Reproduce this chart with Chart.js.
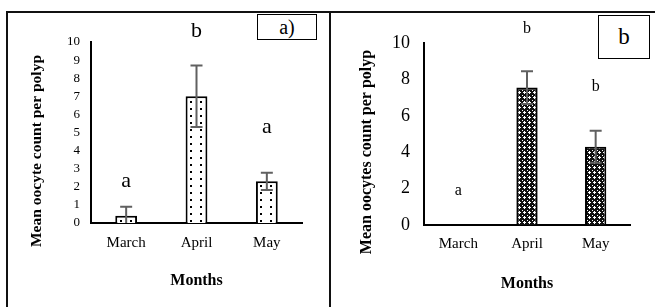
<!DOCTYPE html>
<html lang="en">
<head>
<meta charset="UTF-8">
<title>Mean oocyte count per polyp</title>
<script src="https://cdn.jsdelivr.net/npm/chart.js"></script>
<style>
  body { margin: 0; background: #fff; }
  #page { position: relative; width: 655px; height: 307px; overflow: hidden; background: #fff; }
  .panel { position: absolute; top: 0; }
  .line { position: absolute; background: #111; }
  .tag { position: absolute; box-sizing: border-box; border: 1px solid #000; background: #fff;
         font-family: "Liberation Serif", serif; text-align: center; color: #000; }
</style>
</head>
<body>
<div id="page">
  <canvas id="chartA" class="panel" style="left:0" width="330" height="307"></canvas>
  <canvas id="chartB" class="panel" style="left:332px" width="323" height="307"></canvas>

  <!-- outer frame -->
  <div class="line" style="left:6px;top:11px;width:649px;height:2px"></div>
  <div class="line" style="left:6px;top:11px;width:2px;height:296px"></div>
  <div class="line" style="left:329px;top:11px;width:2px;height:296px"></div>

  <div class="tag" style="left:257px;top:14px;width:60px;height:26px;font-size:20px;line-height:24px">a)</div>
  <div class="tag" style="left:598px;top:15px;width:52px;height:44px;font-size:23px;line-height:42px">b</div>
</div>

<script>
// data
const months = ['March', 'April', 'May'];

const meanA = [0.4, 7.0, 2.3];
const errA = [0.5, 1.7, 0.47];
const lettersA = ['a', 'b', 'a'];
const letterLevelA = [2.0, 10.3, 5.0];

const meanB = [0, 7.55, 4.3];
const errB = [0, 0.9, 0.88];
const lettersB = ['a', 'b', 'b'];
const letterLevelB = [1.65, 10.55, 7.35];

const serif = '"Liberation Serif", "Times New Roman", serif';

// fill patterns
function dotPattern() {
    const c = document.createElement('canvas');
    c.width = 10; c.height = 7;
    const g = c.getContext('2d');
    g.fillStyle = '#fff'; g.fillRect(0, 0, 10, 7);
    g.fillStyle = '#000'; g.fillRect(0, 3, 2, 2);
    return g.createPattern(c, 'repeat');
}
function checkPattern() {
    const c = document.createElement('canvas');
    c.width = 5; c.height = 5;
    const g = c.getContext('2d');
    g.fillStyle = '#111'; g.fillRect(0, 0, 5, 5);
    g.fillStyle = '#fff';
    [[2,1],[1,2],[2,2],[3,2],[2,3],[0,0]].forEach(p => g.fillRect(p[0], p[1], 1, 1));
    return g.createPattern(c, 'repeat');
}

// error bars, letters and y title
const extras = {
    id: 'extras',
    afterDatasetsDraw(chart, args, o) {
        const ctx = chart.ctx, y = chart.scales.y;
        const meta = chart.getDatasetMeta(0);
        const vals = chart.data.datasets[0].data;
        ctx.save();
        ctx.strokeStyle = '#606060';
        ctx.lineWidth = 2;
        meta.data.forEach((bar, i) => {
            const e = o.errors[i];
            if (!e) return;
            const top = y.getPixelForValue(vals[i] + e);
            const low = Math.max(0, vals[i] - e);
            const bot = y.getPixelForValue(low);
            ctx.beginPath();
            ctx.moveTo(bar.x, top); ctx.lineTo(bar.x, bot);
            ctx.moveTo(bar.x - o.cap, top); ctx.lineTo(bar.x + o.cap, top);
            if (low > 0) { ctx.moveTo(bar.x - o.cap, bot); ctx.lineTo(bar.x + o.cap, bot); }
            ctx.stroke();
        });
        ctx.fillStyle = '#000';
        ctx.font = o.letterFont;
        ctx.textAlign = 'center';
        ctx.textBaseline = 'alphabetic';
        o.letters.forEach((t, i) => ctx.fillText(t, meta.data[i].x, y.getPixelForValue(o.letterLevel[i])));

        ctx.translate(o.titleX, o.titleY);
        ctx.rotate(-Math.PI / 2);
        ctx.font = 'bold ' + o.titleSize + 'px ' + serif;
        ctx.textBaseline = 'middle';
        ctx.fillText(o.title, 0, 0);
        ctx.restore();
    }
};

function makeChart(id, vals, fill, opt) {
    return new Chart(document.getElementById(id), {
        type: 'bar',
        data: {
            labels: months,
            datasets: [{
                data: vals,
                backgroundColor: fill,
                borderColor: '#000',
                borderWidth: 2,
                categoryPercentage: 1,
                barPercentage: 0.31
            }]
        },
        options: {
            responsive: false,
            animation: false,
            events: [],
            layout: { padding: { top: opt.top, right: opt.right, left: 0, bottom: 0 } },
            plugins: {
                legend: { display: false },
                tooltip: { enabled: false },
                extras: opt.extras
            },
            scales: {
                x: {
                    grid: { display: false, drawTicks: false },
                    border: { display: true, color: '#000', width: 2 },
                    ticks: { color: '#000', padding: opt.xPad, font: { family: serif, size: 15 } },
                    title: {
                        display: true, text: 'Months', color: '#000',
                        font: { family: serif, size: 16, weight: 'bold' },
                        padding: { top: 0, bottom: opt.monthsPad }
                    },
                    afterFit: s => { s.height = opt.xHeight; }
                },
                y: {
                    min: 0, max: 10,
                    grid: { display: false, drawTicks: false },
                    border: { display: true, color: '#000', width: 2 },
                    ticks: { stepSize: opt.step, autoSkip: false, color: '#000', padding: opt.yPad, font: { family: serif, size: opt.yFont } },
                    afterFit: s => { s.width = opt.yWidth; }
                }
            }
        },
        plugins: [extras]
    });
}

makeChart('chartA', meanA, dotPattern(), {
    top: 42, right: 28, xHeight: 84, yWidth: 91, step: 1, yFont: 13, yPad: 11, xPad: 11, monthsPad: 17,
    extras: {
        errors: errA, cap: 6, letters: lettersA, letterLevel: letterLevelA,
        letterFont: '22px ' + serif,
        title: 'Mean oocyte count per polyp', titleSize: 15.5, titleX: 37, titleY: 151
    }
});

makeChart('chartB', meanB, checkPattern(), {
    top: 43, right: 25, xHeight: 82, yWidth: 92, step: 2, yFont: 18, yPad: 14, xPad: 10, monthsPad: 14,
    extras: {
        errors: errB, cap: 6, letters: lettersB, letterLevel: letterLevelB,
        letterFont: '16px ' + serif,
        title: 'Mean oocytes count per polyp', titleSize: 16, titleX: 35, titleY: 152
    }
});
</script>
</body>
</html>
